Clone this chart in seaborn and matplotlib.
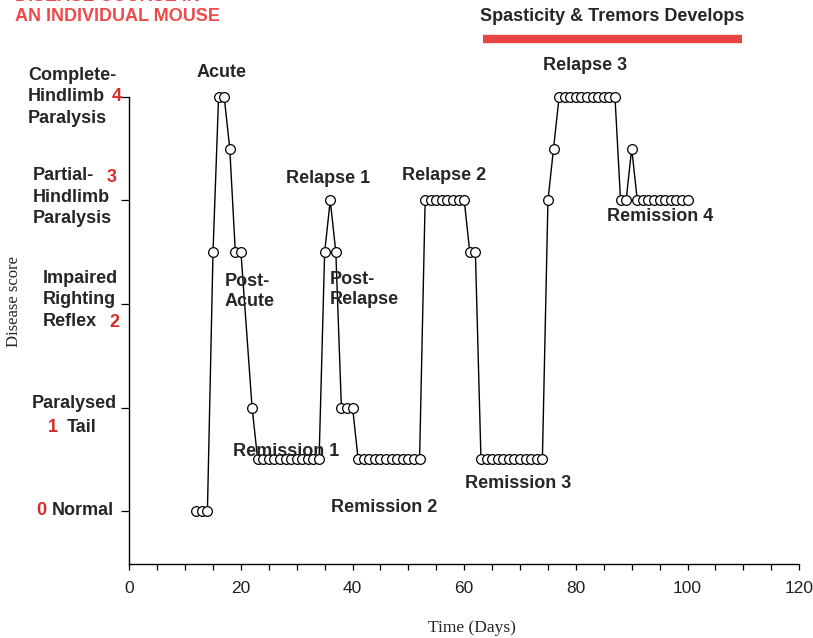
import pandas as pd
import seaborn as sns
import matplotlib.pyplot as plt

# disease score of one mouse
day = [12, 13, 14, 15, 16, 17, 18, 19, 20, 22,
       23, 24, 25, 26, 27, 28, 29, 30, 31, 32, 33, 34,
       35, 36, 37, 38, 39, 40,
       41, 42, 43, 44, 45, 46, 47, 48, 49, 50, 51, 52,
       53, 54, 55, 56, 57, 58, 59, 60, 61, 62,
       63, 64, 65, 66, 67, 68, 69, 70, 71, 72, 73, 74,
       75, 76, 77, 78, 79, 80, 81, 82, 83, 84, 85, 86, 87,
       88, 89, 90, 91, 92, 93, 94, 95, 96, 97, 98, 99, 100]
score = [0, 0, 0, 2.5, 4, 4, 3.5, 2.5, 2.5, 1,
         0.5, 0.5, 0.5, 0.5, 0.5, 0.5, 0.5, 0.5, 0.5, 0.5, 0.5, 0.5,
         2.5, 3, 2.5, 1, 1, 1,
         0.5, 0.5, 0.5, 0.5, 0.5, 0.5, 0.5, 0.5, 0.5, 0.5, 0.5, 0.5,
         3, 3, 3, 3, 3, 3, 3, 3, 2.5, 2.5,
         0.5, 0.5, 0.5, 0.5, 0.5, 0.5, 0.5, 0.5, 0.5, 0.5, 0.5, 0.5,
         3, 3.5, 4, 4, 4, 4, 4, 4, 4, 4, 4, 4, 4,
         3, 3, 3.5, 3, 3, 3, 3, 3, 3, 3, 3, 3, 3]

xticks = [0, 5, 10, 15, 20, 25, 30, 35, 40, 45, 50, 55, 60,
          65, 70, 75, 80, 85, 90, 95, 100, 105, 110, 115, 120]
xticklabels = ["0", "", "", "", "20", "", "", "", "40", "", "", "", "60",
               "", "", "", "80", "", "", "", "100", "", "", "", "120"]
yticks = [0, 1, 2, 3, 4]

df = pd.DataFrame({"day": day, "score": score})

sns.set_style("white")
plt.rcParams["font.family"] = ["Liberation Sans", "DejaVu Sans"]

RED = "#d92b2b"
fig = plt.figure(figsize=(8.13, 6.38), dpi=100)
ax = fig.add_axes([0.159, 0.116, 0.824, 0.7324])

sns.lineplot(data=df, x="day", y="score", ax=ax, color="black", lw=1.0,
             marker="o", markersize=7, markerfacecolor="white",
             markeredgecolor="black", markeredgewidth=0.9,
             estimator=None, clip_on=False)

ax.set_xlim(0, 120)
ax.set_ylim(-0.51, 4)
ax.set_xticks(xticks)
ax.set_xticklabels(xticklabels, fontsize=12.5, color="#222222")
ax.set_yticks(yticks)
ax.set_yticklabels([])
ax.tick_params(axis="x", direction="out", length=4, width=0.9, pad=8, colors="black",
               labelcolor="#222222")
ax.tick_params(axis="y", direction="out", length=6, width=0.9, colors="black")
ax.tick_params(left=True, bottom=True)
for s in ["top", "right"]:
    ax.spines[s].set_visible(False)
for s in ["left", "bottom"]:
    ax.spines[s].set_color("black")
    ax.spines[s].set_linewidth(1.0)
ax.set_xlabel("")
ax.set_ylabel("")

fig.text(0.58, 0.016, "Time (Days)", family="Liberation Serif", fontsize=12.5,
         ha="center", va="center")
fig.text(0.017, 0.527, "Disease score", family="Liberation Serif", fontsize=12,
         rotation=90, ha="center", va="center")

# title, cut at top edge like the original
fig.text(0.018, 0.974, "AN INDIVIDUAL MOUSE", color="#ee4a4a", fontsize=13,
         fontweight="bold", ha="left", va="center")
fig.text(0.018, 1.006, "DISEASE COURSE IN", color="#ee4a4a", fontsize=13,
         fontweight="bold", ha="left", va="center")

bold = dict(fontsize=13, fontweight="bold", clip_on=False)
multi = dict(linespacing=1.35, **bold)

# y level labels
ax.text(-18.1, 4.0, "Complete-\nHindlimb\nParalysis", ha="left", va="center", **multi)
ax.text(-2.2, 4.0, "4", color=RED, ha="center", va="center", **bold)
ax.text(-17.3, 3.03, "Partial-\nHindlimb\nParalysis", ha="left", va="center", **multi)
ax.text(-3.1, 3.22, "3", color=RED, ha="center", va="center", **bold)
ax.text(-15.5, 2.04, "Impaired\nRighting\nReflex", ha="left", va="center", **multi)
ax.text(-2.7, 1.82, "2", color=RED, ha="center", va="center", **bold)
ax.text(-17.4, 1.04, "Paralysed", ha="left", va="center", **bold)
ax.text(-13.7, 0.81, "1", color=RED, ha="center", va="center", **bold)
ax.text(-11.2, 0.81, "Tail", ha="left", va="center", **bold)
ax.text(-15.8, 0.01, "0", color=RED, ha="center", va="center", **bold)
ax.text(-13.8, 0.01, "Normal", ha="left", va="center", **bold)

# phase labels
ax.text(16.6, 4.23, "Acute", ha="center", va="center", **bold)
ax.text(17.1, 2.12, "Post-\nAcute", ha="left", va="center", **bold)
ax.text(35.6, 3.21, "Relapse 1", ha="center", va="center", **bold)
ax.text(35.9, 2.14, "Post-\nRelapse", ha="left", va="center", **bold)
ax.text(28.1, 0.58, "Remission 1", ha="center", va="center", **bold)
ax.text(45.6, 0.04, "Remission 2", ha="center", va="center", **bold)
ax.text(56.3, 3.24, "Relapse 2", ha="center", va="center", **bold)
ax.text(69.7, 0.27, "Remission 3", ha="center", va="center", **bold)
ax.text(81.7, 4.30, "Relapse 3", ha="center", va="center", **bold)
ax.text(95.1, 2.84, "Remission 4", ha="center", va="center", **bold)

ax.text(86.5, 4.77, "Spasticity & Tremors Develops", ha="center", va="center", **bold)
ax.hlines(4.56, 63.3, 109.7, color="#e84444", lw=6, clip_on=False)

fig.savefig("out.png", dpi=100)
